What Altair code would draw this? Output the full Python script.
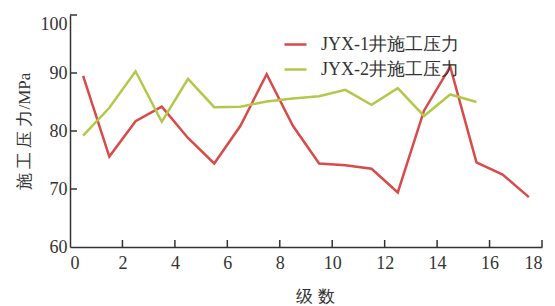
import altair as alt
import pandas as pd

stages_red = [0.5, 1.5, 2.5, 3.5, 4.5, 5.5, 6.5, 7.5, 8.5, 9.5, 10.5, 11.5, 12.5, 13.5, 14.5, 15.5, 16.5, 17.5]
pressure_red = [89.5, 75.6, 81.7, 84.2, 78.8, 74.4, 80.9, 89.8, 80.9, 74.4, 74.1, 73.5, 69.4, 83.5, 91.1, 74.6, 72.5, 68.6]
stages_green = [0.5, 1.5, 2.5, 3.5, 4.5, 5.5, 6.5, 7.5, 8.5, 9.5, 10.5, 11.5, 12.5, 13.5, 14.5, 15.5]
pressure_green = [79.2, 84.0, 90.3, 81.6, 89.0, 84.1, 84.2, 85.1, 85.6, 86.0, 87.1, 84.5, 87.4, 82.6, 86.3, 85.0]
series_names = ["JYX-1井施工压力", "JYX-2井施工压力"]
series_colors = ["#d94a4a", "#b3c84a"]
x_ticks = [2, 4, 6, 8, 10, 12, 14, 16, 18]
y_ticks = [70, 80, 90, 100]

rows = []
for s, v in zip(stages_red, pressure_red):
    rows.append({"stage": s, "pressure": v, "series": series_names[0]})
for s, v in zip(stages_green, pressure_green):
    rows.append({"stage": s, "pressure": v, "series": series_names[1]})
df = pd.DataFrame(rows)

FONT = "Liberation Serif"
xscale = alt.Scale(domain=[0, 18], nice=False, zero=False)
yscale = alt.Scale(domain=[60, 100], nice=False, zero=False)

lines = alt.Chart(df).mark_line(strokeWidth=2.5).encode(
    x=alt.X("stage:Q", scale=xscale,
            axis=alt.Axis(title="级 数", values=list(range(0, 19, 2)), ticks=False,
                          labelPadding=7, titleX=245, titleY=49, titleBaseline="middle")),
    y=alt.Y("pressure:Q", scale=yscale,
            axis=alt.Axis(title="施 工 压 力/MPa", values=[60, 70, 80, 90, 100], ticks=False,
                          labelBaseline={"condition": {"test": "datum.value == 100", "value": "top"},
                                         "value": "middle"},
                          labelPadding=3, titleX=-46, titleY=116, titleBaseline="middle",
                          titleAlign="center")),
    color=alt.Color("series:N", sort=series_names,
                    scale=alt.Scale(domain=series_names, range=series_colors),
                    legend=alt.Legend(title=None, orient="none", legendX=213, legendY=17,
                                      symbolType="stroke", symbolSize=484, symbolStrokeWidth=2.5,
                                      labelFontSize=18, labelColor="#333",
                                      labelOffset=13, rowPadding=3)),
)

ytick_df = pd.DataFrame({"v": y_ticks})
xtick_df = pd.DataFrame({"v": x_ticks})

yticks = alt.Chart(ytick_df).mark_rule(color="#333", strokeWidth=1.5).encode(
    y=alt.Y("v:Q", scale=yscale), x=alt.value(0), x2=alt.value(7))
xticks = alt.Chart(xtick_df).mark_rule(color="#333", strokeWidth=1.5).encode(
    x=alt.X("v:Q", scale=xscale), y=alt.value(232), y2=alt.value(225))

chart = alt.layer(lines, yticks, xticks).properties(
    width=472, height=232,
    autosize=alt.AutoSizeParams(type="none"),
    padding={"left": 62, "top": 7, "right": 5, "bottom": 58},
    background="white",
).configure(font=FONT).configure_view(stroke=None).configure_axis(
    grid=False, domainColor="#333", domainWidth=1.5,
    labelColor="#333", labelFontSize=18, titleFontSize=17, titleColor="#333",
    titleFontWeight="normal",
)

chart.save("out.html", embed_options={"renderer": "svg", "actions": False})
